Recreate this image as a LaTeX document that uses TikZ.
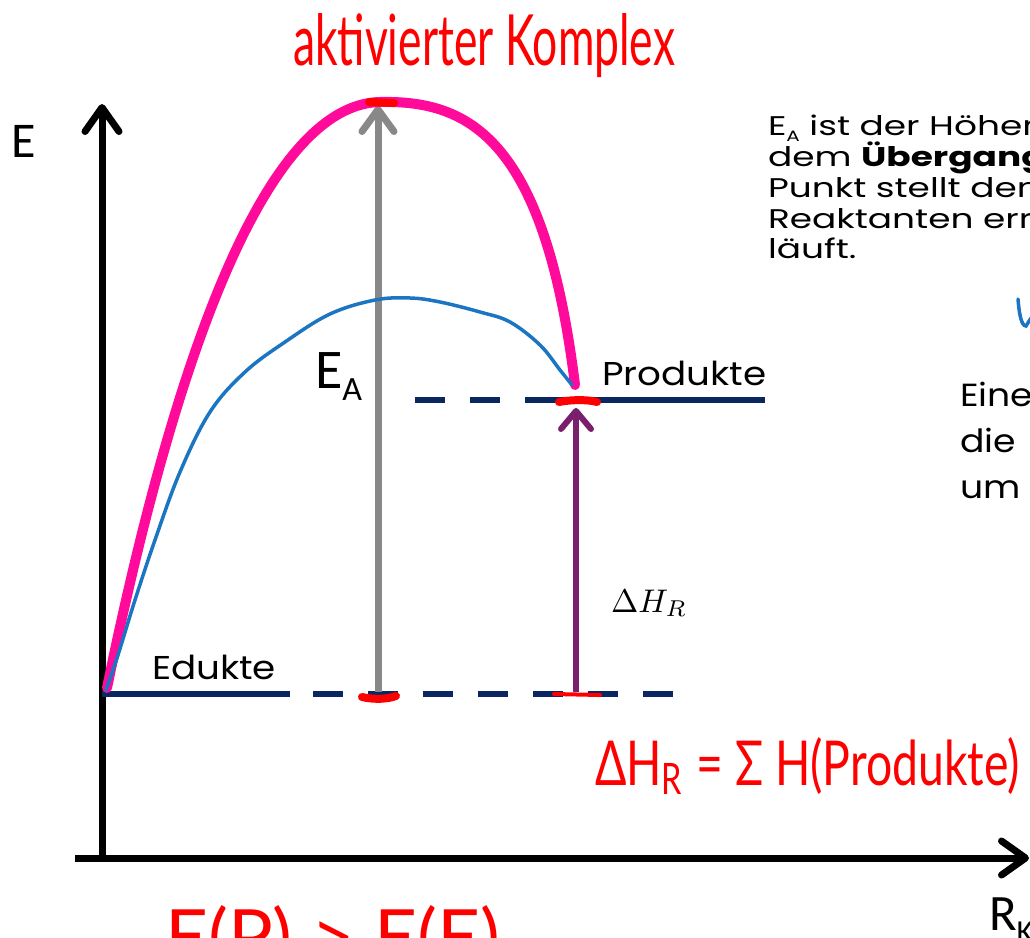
\documentclass[tikz,border=0pt]{standalone}
\usepackage{graphicx}
\usepackage{fontspec}
\setmainfont{Poppins}
\newfontfamily\calib{Carlito}
\newfontfamily\hand{Lato}
\usetikzlibrary{arrows.meta}
\definecolor{navy}{HTML}{0B2762}
\definecolor{hotpink}{HTML}{FF0A9A}
\definecolor{curveblue}{HTML}{1B75C0}
\definecolor{arrowpurple}{HTML}{7A1F6E}
\definecolor{arrowgray}{HTML}{888888}
\definecolor{inkred}{HTML}{FF0000}
\newcommand{\widetext}[1]{\scalebox{1.13}[1]{#1}}
\newcommand{\widepara}[1]{\scalebox{1.33}[1]{#1}}
\tikzset{
  lbl/.style={anchor=base west, inner sep=0pt, outer sep=0pt},
  para/.style={lbl, font=\fontsize{27}{30}\selectfont},
  big/.style={lbl, font=\fontsize{32}{40}\selectfont},
  level/.style={lbl, font=\fontsize{33}{40}\selectfont},
  axisline/.style={line width=7pt, black},
  levelline/.style={line width=6pt, navy},
  dashedlevel/.style={levelline, dash pattern=on 30pt off 25pt},
  handink/.style={lbl, text=inkred},
  redmark/.style={inkred, line width=8pt, line cap=round},
}
\begin{document}
\begin{tikzpicture}[x=1pt,y=-1pt]
\useasboundingbox (0,0) rectangle (1030,937);
% coordinates
\coordinate (O) at (102,858);
\coordinate (Ytop) at (102,104);
\coordinate (Xl) at (75,858);
\coordinate (Xr) at (1029,858);
\coordinate (Ed0) at (102,694);
\coordinate (Ed1) at (290,694);
\coordinate (Ed2) at (313,694);
\coordinate (Ed3) at (673,694);
\coordinate (Pr0) at (415,400);
\coordinate (Pr1) at (555,400);
\coordinate (Pr2) at (765,400);
\coordinate (GA0) at (378,692);
\coordinate (GA1) at (378,106);
\coordinate (PA0) at (576,692);
\coordinate (PA1) at (576,408);
\coordinate (Start) at (107,688);
\coordinate (Peak) at (380,102);
\coordinate (End) at (575,385);

% axes
\draw[axisline, -{Straight Barb[length=24pt,width=34pt,round]}] (O) -- (Ytop);
\draw[axisline, -{Straight Barb[length=24pt,width=34pt,round]}] (Xl) -- (Xr);

% energy levels
\draw[levelline] (Ed0) -- (Ed1);
\draw[dashedlevel] (Ed2) -- (Ed3);
\draw[dashedlevel] (Pr0) -- (Pr1);
\draw[levelline] (Pr1) -- (Pr2);

% arrows
\draw[arrowgray, line width=7pt, -{Straight Barb[length=22pt,width=32pt,round]}] (GA0) -- (GA1);
\draw[arrowpurple, line width=6pt, -{Straight Barb[length=18pt,width=30pt,round]}] (PA0) -- (PA1);

% curves
\draw[hotpink, line width=10pt, line cap=round] (Start) .. controls (160,430) and (250,105) .. (Peak)
   .. controls (470,100) and (545,140) .. (End);
\draw[curveblue, line width=3.5pt, line cap=round, line join=round] plot[smooth, tension=0.6] coordinates
  {(106,690) (118,655) (135,600) (155,540) (180,472) (210,412) (245,372) (285,342) (330,314) (375,300) (410,298) (440,302) (480,312) (510,322) (540,345) (560,370) (572,385)};

% red marks
\draw[redmark] (369,102) -- (394,103);
\draw[redmark] (559,402) .. controls (575,399) and (590,400) .. (597,402);
\draw[redmark] (362,697) .. controls (375,700) and (388,699) .. (396,696);
\draw[inkred, line width=4pt, line cap=round] (554,694) -- (600,695);

% blue fragment at right edge
\draw[curveblue, line width=3.5pt, line cap=round] (1018,299) .. controls (1019,312) and (1021,326) .. (1026,326) -- (1031,318);

% axis labels
\node[lbl, font=\calib\fontsize{50}{60}\selectfont] (Elbl) at (12,157) {E};
\node[lbl, font=\calib\fontsize{56}{66}\selectfont] (EAlbl) at (315,388) {E\raisebox{-12pt}{\fontsize{34}{40}\selectfont A}};
\node[lbl, font=\calib\fontsize{51}{60}\selectfont] (Rlbl) at (989,930) {R\raisebox{-12pt}{\fontsize{32}{40}\selectfont K}};

% level labels
\node[level] (Edukte) at (152,679) {\widetext{Edukte}};
\node[level] (Produkte) at (602,385) {\widetext{Produkte}};
\node[lbl] (dH) at (611,612) {\resizebox{76pt}{!}{$\Delta H_R$}};

% paragraph
\node[para] (p1) at (768,135) {\widepara{E\raisebox{-6pt}{\fontsize{15}{15}\selectfont A} ist der Höhenunterschied}};
\node[para] (p2) at (768,166) {\widepara{dem \textbf{Übergangszustand}}};
\node[para] (p3) at (768,197) {\widepara{Punkt stellt den}};
\node[para] (p4) at (768,228) {\widepara{Reaktanten erreicht}};
\node[para] (p5) at (768,258) {\widepara{läuft.}};
\node[big] (q1) at (960,406) {\widetext{Eine}};
\node[big] (q2) at (960,452) {\widetext{die}};
\node[big] (q3) at (960,498) {\widetext{um}};

% handwriting
\node[handink] (hw1) at (293,65) {\resizebox{382pt}{52pt}{\hand aktivierter Komplex}};
\node[handink] (hw2) at (595,785) {\resizebox{425pt}{48pt}{\hand ΔH\textsubscript{R} = Σ H(Produkte)}};
\node[handink] (hw3) at (165,962) {\resizebox{335pt}{57pt}{\hand E(P) > E(E)}};
\end{tikzpicture}
\end{document}
